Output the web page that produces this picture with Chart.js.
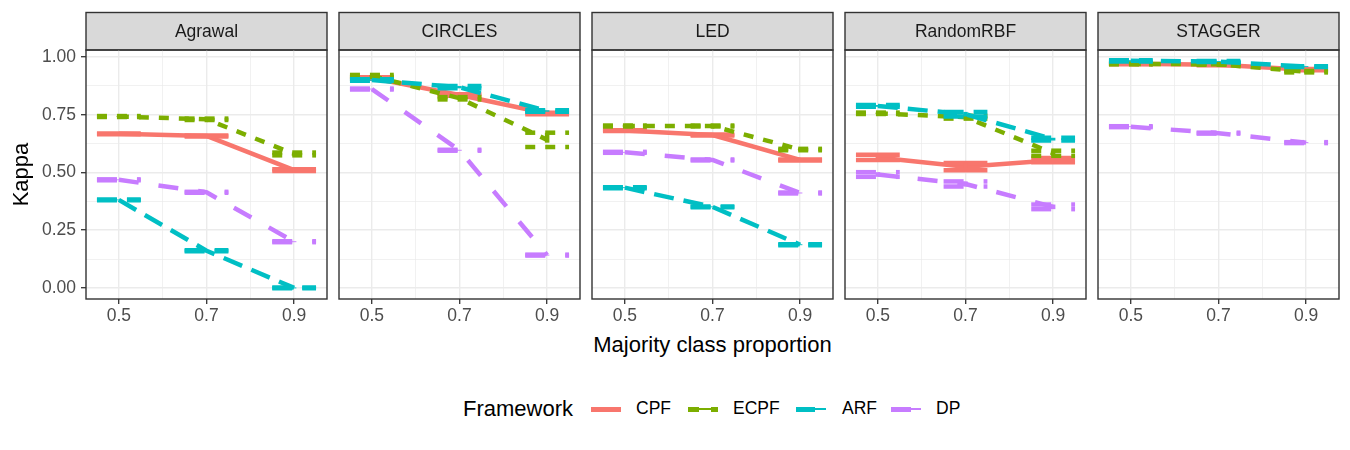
<!DOCTYPE html>
<html>
<head>
<meta charset="utf-8">
<script src="https://cdn.jsdelivr.net/npm/chart.js@4.4.1/dist/chart.umd.min.js"></script>
<style>
  html, body { margin: 0; padding: 0; background: #fff; }
  #fig { position: relative; width: 1350px; height: 450px; overflow: hidden;
         font-family: "Liberation Sans", Arial, sans-serif; }
  #fig canvas { position: absolute; top: 0; }
  .lbl { position: absolute; white-space: nowrap; color: #000; line-height: 1; }
  .key { position: absolute; width: 30px; height: 5px; }
</style>
</head>
<body>
<div id="fig">
  <div class="lbl" id="xTitle" style="font-size:22px;">Majority class proportion</div>
  <div id="legend"></div>
</div>

<script>
// ---- datos ----
const PANELS     = ['Agrawal', 'CIRCLES', 'LED', 'RandomRBF', 'STAGGER'];
const X_VALUES   = [0.5, 0.7, 0.9];
const FRAMEWORKS = ['CPF', 'ECPF', 'ARF', 'DP'];
const COLORS     = ['#F8766D', '#7CAE00', '#00BFC4', '#C77CFF'];
const DASHES     = [[], [10, 10], [20, 10], [20, 20]];

// una fila por panel, una columna por x
const CPF_MEAN = [
  [0.667, 0.658, 0.510],
  [0.909, 0.835, 0.755],
  [0.681, 0.662, 0.554],
  [0.565, 0.525, 0.553],
  [0.970, 0.966, 0.945]
];
const CPF_ERR = [
  [0.002, 0.002, 0.004],
  [0.003, 0.003, 0.003],
  [0.002, 0.002, 0.002],
  [0.011, 0.016, 0.009],
  [0.002, 0.002, 0.003]
];
const ECPF_MEAN = [
  [0.742, 0.730, 0.580],
  [0.918, 0.821, 0.641],
  [0.701, 0.701, 0.599],
  [0.756, 0.739, 0.583],
  [0.970, 0.968, 0.936]
];
const ECPF_ERR = [
  [0.002, 0.003, 0.006],
  [0.004, 0.005, 0.031],
  [0.002, 0.002, 0.003],
  [0.003, 0.006, 0.011],
  [0.002, 0.002, 0.003]
];
const ARF_MEAN = [
  [0.381, 0.161, 0.000],
  [0.900, 0.869, 0.766],
  [0.434, 0.351, 0.187],
  [0.788, 0.752, 0.644],
  [0.983, 0.980, 0.958]
];
const ARF_ERR = [
  [0.002, 0.002, 0.002],
  [0.003, 0.005, 0.003],
  [0.002, 0.002, 0.002],
  [0.004, 0.010, 0.006],
  [0.003, 0.002, 0.002]
];
const DP_MEAN = [
  [0.468, 0.414, 0.200],
  [0.861, 0.596, 0.142],
  [0.587, 0.554, 0.411],
  [0.491, 0.450, 0.351],
  [0.698, 0.670, 0.629]
];
const DP_ERR = [
  [0.002, 0.002, 0.002],
  [0.002, 0.002, 0.002],
  [0.002, 0.002, 0.002],
  [0.010, 0.011, 0.010],
  [0.002, 0.002, 0.002]
];

const Y_TICKS  = [0, 0.125, 0.25, 0.375, 0.5, 0.625, 0.75, 0.875, 1];
const X_TICKS  = [0.5, 0.6, 0.7, 0.8, 0.9];
const Y_MAJOR  = [0, 0.25, 0.5, 0.75, 1];
const X_MAJOR  = [0.5, 0.7, 0.9];

const MEANS = [CPF_MEAN, ECPF_MEAN, ARF_MEAN, DP_MEAN];
const ERRS  = [CPF_ERR, ECPF_ERR, ARF_ERR, DP_ERR];

// ---- layout ----
const FONT      = '"Liberation Sans", Arial, sans-serif';
const PLOT_W    = 241;
const PLOT_L    = [86, 339, 592, 845, 1098];
const PLOT_TOP  = 50;
const PLOT_BOT  = 299;
const STRIP_TOP = 12.5;
const CANVAS_H  = 336;
const CAP_HALF  = 0.05;
const LINE_W    = 4.5;

const isMajor = (list, v) => list.some(m => Math.abs(m - v) < 1e-9);

// tiras + marco del panel
const facetPlugin = {
  id: 'facet',
  beforeDraw(chart, args, opts) {
    const { ctx, chartArea: a } = chart;
    ctx.save();
    ctx.fillStyle = '#D9D9D9';
    ctx.fillRect(a.left, STRIP_TOP, a.right - a.left, a.top - STRIP_TOP);
    ctx.strokeStyle = '#333333';
    ctx.lineWidth = 1.4;
    ctx.strokeRect(a.left, STRIP_TOP, a.right - a.left, a.top - STRIP_TOP);
    ctx.fillStyle = '#1A1A1A';
    ctx.font = '17.5px ' + FONT;
    ctx.textAlign = 'center';
    ctx.textBaseline = 'middle';
    ctx.fillText(opts.label, (a.left + a.right) / 2, (STRIP_TOP + a.top) / 2 + 1);
    ctx.restore();
  },
  afterDraw(chart) {
    const { ctx, chartArea: a } = chart;
    ctx.save();
    ctx.strokeStyle = '#333333';
    ctx.lineWidth = 1.4;
    ctx.strokeRect(a.left, a.top, a.right - a.left, a.bottom - a.top);
    ctx.restore();
  }
};

// barras de error con el mismo tipo de línea
const errorBarPlugin = {
  id: 'errbars',
  afterDatasetDraw(chart, args) {
    const ds = chart.data.datasets[args.index];
    const { ctx, scales: { x, y }, chartArea: a } = chart;
    ctx.save();
    ctx.beginPath();
    ctx.rect(a.left, a.top, a.right - a.left, a.bottom - a.top);
    ctx.clip();
    ctx.strokeStyle = ds.borderColor;
    ctx.lineWidth = LINE_W;
    ctx.lineCap = 'butt';
    ds.data.forEach((p, i) => {
      const e = ds.errors[i];
      const xc = x.getPixelForValue(p.x);
      const x0 = x.getPixelForValue(p.x - CAP_HALF);
      const x1 = x.getPixelForValue(p.x + CAP_HALF);
      const yHi = y.getPixelForValue(p.y + e);
      const yLo = y.getPixelForValue(p.y - e);
      [[x0, yHi, x1, yHi], [xc, yHi, xc, yLo], [x0, yLo, x1, yLo]].forEach(s => {
        ctx.setLineDash(ds.borderDash);
        ctx.beginPath();
        ctx.moveTo(s[0], s[1]);
        ctx.lineTo(s[2], s[3]);
        ctx.stroke();
      });
    });
    ctx.restore();
  }
};

function crearPanel(p) {
  const first = p === 0;
  const padL = first ? 0 : 3;
  const canvasLeft = first ? 0 : PLOT_L[p] - padL;
  const yWidth = first ? PLOT_L[0] : 0;
  const canvasW = padL + yWidth + PLOT_W + 3;

  const cv = document.createElement('canvas');
  cv.width = canvasW;
  cv.height = CANVAS_H;
  cv.style.left = canvasLeft + 'px';
  cv.style.width = canvasW + 'px';
  cv.style.height = CANVAS_H + 'px';
  document.getElementById('fig').appendChild(cv);

  const datasets = FRAMEWORKS.map((f, k) => ({
    label: f,
    data: X_VALUES.map((xv, i) => ({ x: xv, y: MEANS[k][p][i] })),
    errors: ERRS[k][p],
    borderColor: COLORS[k],
    backgroundColor: COLORS[k],
    borderWidth: LINE_W,
    borderDash: DASHES[k],
    borderJoinStyle: 'round',
    borderCapStyle: 'butt',
    pointRadius: 0,
    tension: 0,
    order: FRAMEWORKS.length - k
  }));

  new Chart(cv, {
    type: 'line',
    data: { datasets },
    options: {
      responsive: false,
      animation: false,
      devicePixelRatio: 1,
      layout: { padding: { left: padL, right: 3, top: PLOT_TOP, bottom: 0 } },
      plugins: {
        legend: { display: false },
        tooltip: { enabled: false },
        facet: { label: PANELS[p] }
      },
      scales: {
        x: {
          type: 'linear',
          min: 0.425,
          max: 0.975,
          afterBuildTicks: s => { s.ticks = X_TICKS.map(v => ({ value: v })); },
          afterFit: s => { s.height = CANVAS_H - PLOT_BOT; },
          border: { display: false },
          grid: {
            color: '#EBEBEB',
            lineWidth: c => isMajor(X_MAJOR, c.tick.value) ? 1.4 : 0.7,
            tickColor: c => isMajor(X_MAJOR, c.tick.value) ? '#333333' : 'rgba(0,0,0,0)',
            tickWidth: 1.3,
            tickLength: 5
          },
          ticks: {
            autoSkip: false,
            maxRotation: 0,
            padding: 2,
            color: '#4D4D4D',
            font: { family: FONT, size: 17.5 },
            callback: v => isMajor(X_MAJOR, v) ? v.toFixed(1) : ''
          }
        },
        y: {
          type: 'linear',
          min: -0.048,
          max: 1.03,
          afterBuildTicks: s => { s.ticks = Y_TICKS.map(v => ({ value: v })); },
          afterFit: s => { s.width = yWidth; },
          border: { display: false },
          grid: {
            color: '#EBEBEB',
            lineWidth: c => isMajor(Y_MAJOR, c.tick.value) ? 1.4 : 0.7,
            tickColor: c => isMajor(Y_MAJOR, c.tick.value) ? '#333333' : 'rgba(0,0,0,0)',
            tickWidth: 1.3,
            tickLength: 5,
            drawTicks: first
          },
          title: {
            display: first,
            text: 'Kappa',
            color: '#000',
            font: { family: FONT, size: 22 },
            padding: { top: 9, bottom: 0 }
          },
          ticks: {
            display: first,
            autoSkip: false,
            padding: 5,
            color: '#4D4D4D',
            font: { family: FONT, size: 17.5 },
            callback: v => isMajor(Y_MAJOR, v) ? v.toFixed(2) : ''
          }
        }
      }
    },
    plugins: [facetPlugin, errorBarPlugin]
  });
}

PANELS.forEach((_, p) => crearPanel(p));

// ---- títulos y leyenda (HTML) ----
const xTitle = document.getElementById('xTitle');
xTitle.style.left = '0px';
xTitle.style.top = '0px';
const xtW = xTitle.getBoundingClientRect().width;
xTitle.style.left = (712.5 - xtW / 2) + 'px';
xTitle.style.top = (345 - 11) + 'px';

const LEGEND_Y = 409;
const KEY_LEFT  = [591, 688, 796, 891];
const TEXT_LEFT = [636, 733, 842, 936];
const fig = document.getElementById('fig');

const title = document.createElement('div');
title.className = 'lbl';
title.style.fontSize = '22px';
title.textContent = 'Framework';
title.style.left = '463px';
title.style.top = (LEGEND_Y - 11) + 'px';
fig.appendChild(title);

function keyBackground(k) {
  const c = COLORS[k];
  const thin = `linear-gradient(${c}, ${c}) center / 100% 2px no-repeat`;
  if (k === 0) return c;
  if (k === 1) return `linear-gradient(to right, ${c} 0 11px, transparent 11px 23px, ${c} 23px 30px), ${thin}`;
  if (k === 2) return `linear-gradient(to right, ${c} 0 19px, transparent 19px 30px), ${thin}`;
  return `linear-gradient(to right, ${c} 0 20px, transparent 20px 30px), ${thin}`;
}

FRAMEWORKS.forEach((f, k) => {
  const key = document.createElement('div');
  key.className = 'key';
  key.style.left = KEY_LEFT[k] + 'px';
  key.style.top = (LEGEND_Y - 2.5) + 'px';
  key.style.background = keyBackground(k);
  fig.appendChild(key);

  const t = document.createElement('div');
  t.className = 'lbl';
  t.style.fontSize = '17.5px';
  t.style.left = TEXT_LEFT[k] + 'px';
  t.style.top = (LEGEND_Y - 9) + 'px';
  t.textContent = f;
  fig.appendChild(t);
});
</script>
</body>
</html>
